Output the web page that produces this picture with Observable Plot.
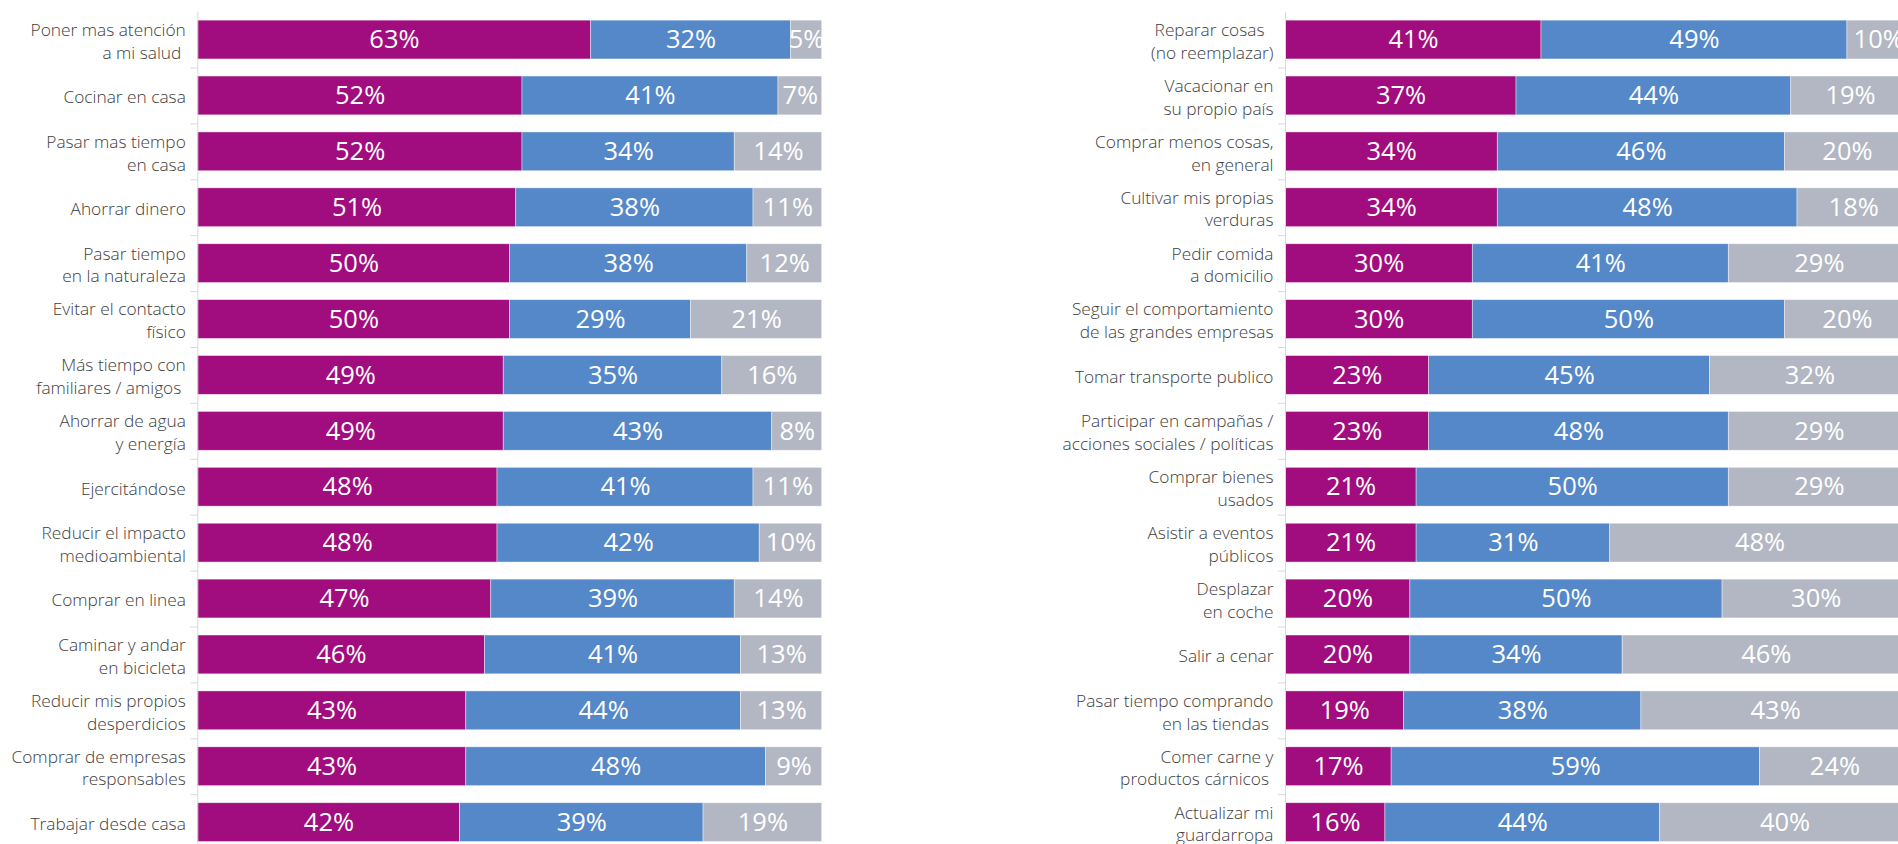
<!DOCTYPE html>
<html>
<head>
<meta charset="utf-8">
<script src="https://cdn.jsdelivr.net/npm/d3@7"></script>
<script src="https://cdn.jsdelivr.net/npm/@observablehq/plot@0.6"></script>
<style>
  html, body { margin: 0; padding: 0; background: #fff; overflow: hidden; width: 1898px; height: 844px; }
  #left, #right { position: absolute; top: 0; }
  #left { left: 0; }
  #right { left: 1040px; }
  svg { max-width: none !important; overflow: visible; }
</style>
</head>
<body>
<div id="left"></div>
<div id="right"></div>
<script>
// ---- data ----
const seriesNames = ["Más", "Igual", "Menos"];
const seriesColors = ["#A10C7E", "#5588C8", "#B2B7C3"];

const leftLabels = [
  "Poner mas atención\na mi salud\u00a0",
  "Cocinar en casa",
  "Pasar mas tiempo\nen casa",
  "Ahorrar dinero",
  "Pasar tiempo\nen la naturaleza",
  "Evitar el contacto\nfísico",
  "Más tiempo con\nfamiliares / amigos\u00a0",
  "Ahorrar de agua\ny energía",
  "Ejercitándose",
  "Reducir el impacto\nmedioambiental",
  "Comprar en linea",
  "Caminar y andar\nen bicicleta",
  "Reducir mis propios\ndesperdicios",
  "Comprar de empresas\nresponsables",
  "Trabajar desde casa"
];
const leftMas   = [63, 52, 52, 51, 50, 50, 49, 49, 48, 48, 47, 46, 43, 43, 42];
const leftIgual = [32, 41, 34, 38, 38, 29, 35, 43, 41, 42, 39, 41, 44, 48, 39];
const leftMenos = [5, 7, 14, 11, 12, 21, 16, 8, 11, 10, 14, 13, 13, 9, 19];

const rightLabels = [
  "Reparar cosas\u00a0\u00a0\n(no reemplazar)",
  "Vacacionar en\nsu propio país",
  "Comprar menos cosas,\nen general",
  "Cultivar mis propias\nverduras",
  "Pedir comida\na domicilio",
  "Seguir el comportamiento\nde las grandes empresas",
  "Tomar transporte publico",
  "Participar en campañas /\nacciones sociales / políticas",
  "Comprar bienes\nusados",
  "Asistir a eventos\npúblicos",
  "Desplazar\nen coche",
  "Salir a cenar",
  "Pasar tiempo comprando\nen las tiendas\u00a0",
  "Comer carne y\nproductos cárnicos\u00a0",
  "Actualizar mi\nguardarropa"
];
const rightMas   = [41, 37, 34, 34, 30, 30, 23, 23, 21, 21, 20, 20, 19, 17, 16];
const rightIgual = [49, 44, 46, 48, 41, 50, 45, 48, 50, 31, 50, 34, 38, 59, 44];
const rightMenos = [10, 19, 20, 18, 29, 20, 32, 29, 29, 48, 30, 46, 43, 24, 40];

// ---- layout ----
const rowStep = 55.9;
const plotW = 624.4;
const plotTop = 11.6;

function panel(labels, mas, igual, menos, marginLeft) {
  const data = [];
  labels.forEach((l, i) => {
    data.push({label: l, series: seriesNames[0], value: mas[i]});
    data.push({label: l, series: seriesNames[1], value: igual[i]});
    data.push({label: l, series: seriesNames[2], value: menos[i]});
  });
  const tickLen = 7 / plotW * 100;
  return Plot.plot({
    width: marginLeft + plotW,
    height: plotTop + labels.length * rowStep,
    marginTop: plotTop,
    marginBottom: 0,
    marginLeft: marginLeft,
    marginRight: 0,
    x: {domain: [0, 100], axis: null},
    y: {domain: labels, axis: null, paddingInner: 0.306, paddingOuter: 0.153, round: false},
    color: {domain: seriesNames, range: seriesColors},
    style: {fontFamily: "'Open Sans', 'Noto Sans', sans-serif", background: "transparent", maxWidth: "none", overflow: "visible"},
    marks: [
      Plot.barX(data, Plot.stackX({
        x: "value", y: "label", fill: "series", order: seriesNames,
        stroke: "white", strokeWidth: 0.75, strokeOpacity: 0.55
      })),
      Plot.text(data, Plot.stackX({
        x: "value", y: "label", z: "series", order: seriesNames,
        text: d => d.value + "%", fill: "white", fontSize: 25.5, fontWeight: 400
      })),
      Plot.ruleX([0], {stroke: "#d9d9d9", strokeWidth: 1}),
      Plot.ruleY(labels, {y: d => d, dy: rowStep / 2, x1: -tickLen, x2: 0, stroke: "#d9d9d9"}),
      Plot.text(labels, {
        y: d => d, text: d => d, frameAnchor: "left", dx: -12, textAnchor: "end",
        fontSize: 17.3, fontWeight: 300, lineHeight: 1.32, fill: "#404040"
      })
    ]
  });
}

document.getElementById("left").appendChild(panel(leftLabels, leftMas, leftIgual, leftMenos, 197.3));
document.getElementById("right").appendChild(panel(rightLabels, rightMas, rightIgual, rightMenos, 245));
</script>
</body>
</html>
